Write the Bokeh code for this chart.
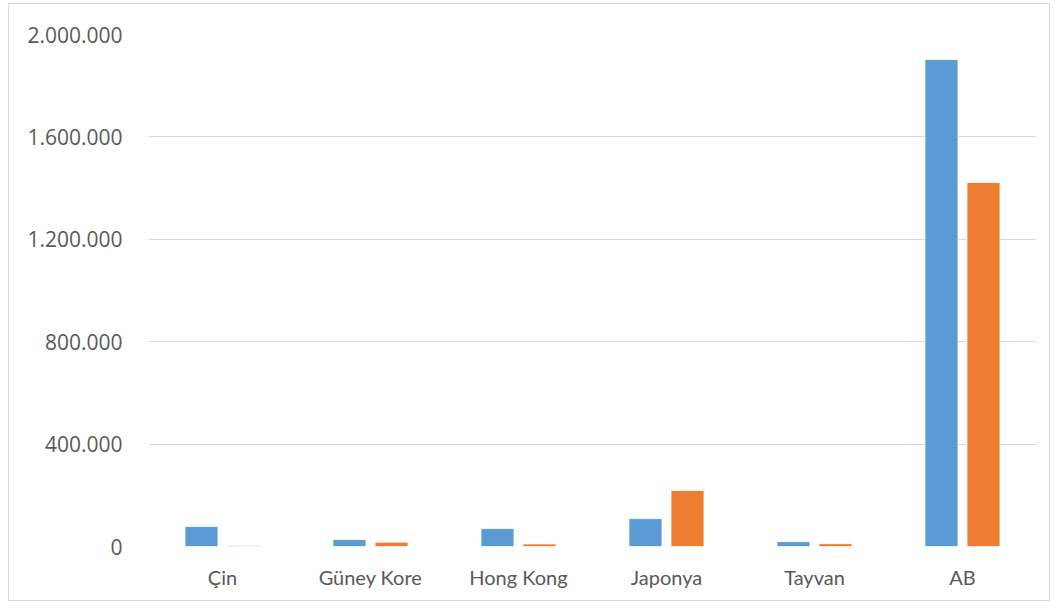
from bokeh.plotting import figure
from bokeh.models import ColumnDataSource, FactorRange, FixedTicker, CustomJSTickFormatter, Range1d
from bokeh.transform import dodge
from bokeh.embed import file_html
from bokeh.resources import INLINE

categories = ["Çin", "Güney Kore", "Hong Kong", "Japonya", "Tayvan", "AB"]
series_blue = [78000, 27000, 70000, 109000, 19000, 1902000]
series_orange = [4000, 17000, 10000, 219000, 11000, 1422000]
y_ticks = [0, 400000, 800000, 1200000, 1600000, 2000000]

source = ColumnDataSource(data=dict(cat=categories, blue=series_blue, orange=series_orange))

p = figure(
    x_range=FactorRange(*categories, range_padding=0),
    y_range=Range1d(0, 2000000),
    width=1042, height=598,
    output_backend="svg", toolbar_location=None,
    min_border_left=139, min_border_right=15, min_border_top=30, min_border_bottom=56,
)
p.styles = {"border": "1px solid #d9d9d9", "margin-left": "8px", "margin-top": "3px"}
p.outline_line_color = None

p.vbar(x=dodge("cat", -0.142, range=p.x_range), top="blue", width=0.223, source=source,
       fill_color="#5B9BD5", line_color="white", line_width=0.8)
p.vbar(x=dodge("cat", 0.142, range=p.x_range), top="orange", width=0.223, source=source,
       fill_color="#ED7D31", line_color="white", line_width=0.8)

p.xgrid.grid_line_color = None
p.ygrid.grid_line_color = "#d9d9d9"
p.ygrid.grid_line_width = 1.2
p.yaxis.ticker = FixedTicker(ticks=y_ticks)
p.yaxis.formatter = CustomJSTickFormatter(code="""
return tick.toFixed(0).replace(/\\B(?=(\\d{3})+(?!\\d))/g, '.');
""")

for ax in (p.xaxis, p.yaxis):
    ax.axis_line_color = None
    ax.major_tick_line_color = None
    ax.minor_tick_line_color = None
    ax.major_label_text_color = "#595959"

p.yaxis.major_label_text_font = "Open Sans"
p.yaxis.major_label_text_font_size = "21px"
p.yaxis.major_label_standoff = 20
p.xaxis.major_label_text_font = "Lato"
p.xaxis.major_label_text_font_size = "20px"
p.xaxis.major_label_standoff = 12

open("out.html", "w").write(file_html(p, INLINE))
